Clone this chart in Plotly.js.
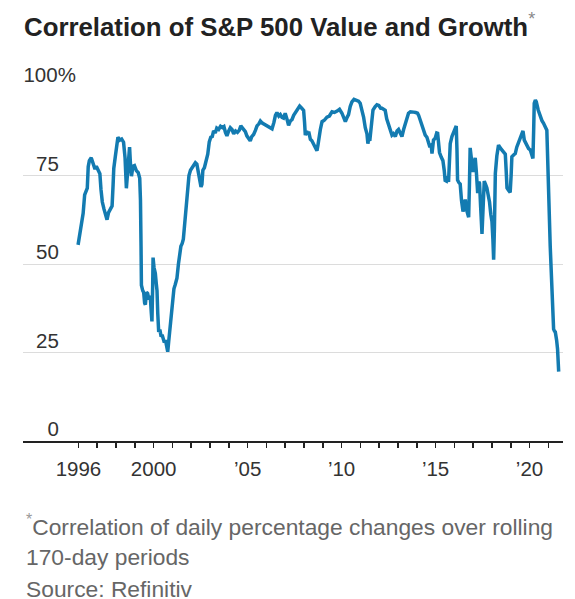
<!DOCTYPE html>
<html>
<head>
<meta charset="utf-8">
<script src="https://cdn.plot.ly/plotly-3.0.1.min.js"></script>
<style>
  html, body { margin: 0; padding: 0; background: #fff; }
  #chart { width: 575px; height: 599px; }
</style>
</head>
<body>
<div id="chart"></div>
<script>
// Rolling 170-day correlation of S&P 500 Value vs. Growth daily % changes (decimal year, %)
const years = [
  1995.98, 1996.10, 1996.25, 1996.33, 1996.40, 1996.47, 1996.52, 1996.58, 1996.68, 1996.78,
  1996.88, 1996.95, 1997.05, 1997.14, 1997.20, 1997.27, 1997.36, 1997.45, 1997.52, 1997.60,
  1997.70, 1997.79, 1997.84, 1997.88, 1997.96, 1998.04, 1998.10, 1998.20, 1998.30, 1998.40,
  1998.48, 1998.55, 1998.60, 1998.66, 1998.72, 1998.77, 1998.82, 1998.90, 1998.98, 1999.08,
  1999.18, 1999.26, 1999.30, 1999.33, 1999.35, 1999.42, 1999.47, 1999.52, 1999.56, 1999.62,
  1999.68, 1999.75, 1999.82, 1999.88, 1999.91, 1999.95, 1999.97, 2000.02, 2000.09, 2000.14,
  2000.18, 2000.22, 2000.27, 2000.33, 2000.40, 2000.45, 2000.52, 2000.57, 2000.63, 2000.70,
  2000.75, 2000.80, 2000.85, 2000.89, 2000.95, 2001.02, 2001.08, 2001.15, 2001.24, 2001.32,
  2001.38, 2001.45, 2001.52, 2001.58, 2001.63, 2001.69, 2001.75, 2001.81, 2001.88, 2001.96,
  2002.04, 2002.14, 2002.22, 2002.30, 2002.38, 2002.45, 2002.52, 2002.57, 2002.62, 2002.70,
  2002.80, 2002.88, 2002.96, 2003.04, 2003.12, 2003.19, 2003.28, 2003.36, 2003.46, 2003.56,
  2003.66, 2003.74, 2003.82, 2003.90, 2003.99, 2004.08, 2004.17, 2004.26, 2004.36, 2004.46,
  2004.56, 2004.64, 2004.70, 2004.80, 2004.88, 2004.96, 2005.06, 2005.14, 2005.22, 2005.32,
  2005.42, 2005.50, 2005.60, 2005.68, 2005.78, 2005.88, 2006.00, 2006.10, 2006.20, 2006.30,
  2006.40, 2006.48, 2006.56, 2006.66, 2006.74, 2006.83, 2006.91, 2007.00, 2007.10, 2007.18,
  2007.27, 2007.36, 2007.45, 2007.54, 2007.66, 2007.77, 2007.88, 2007.98, 2008.03, 2008.07,
  2008.14, 2008.20, 2008.25, 2008.34, 2008.42, 2008.51, 2008.60, 2008.69, 2008.74, 2008.78,
  2008.87, 2008.96, 2009.08, 2009.22, 2009.35, 2009.49, 2009.62, 2009.76, 2009.89, 2010.02,
  2010.10, 2010.20, 2010.30, 2010.37, 2010.46, 2010.55, 2010.66, 2010.78, 2010.90, 2010.99,
  2011.08, 2011.17, 2011.26, 2011.35, 2011.40, 2011.44, 2011.50, 2011.56, 2011.62, 2011.67,
  2011.78, 2011.88, 2011.98, 2012.08, 2012.15, 2012.24, 2012.32, 2012.40, 2012.50, 2012.58,
  2012.68, 2012.76, 2012.86, 2012.95, 2013.03, 2013.12, 2013.21, 2013.30, 2013.39, 2013.48,
  2013.56, 2013.66, 2013.76, 2013.83, 2013.94, 2014.04, 2014.10, 2014.20, 2014.28, 2014.36,
  2014.45, 2014.54, 2014.63, 2014.70, 2014.76, 2014.81, 2014.86, 2014.89, 2014.98, 2015.06,
  2015.11, 2015.16, 2015.21, 2015.30, 2015.39, 2015.46, 2015.51, 2015.58, 2015.64, 2015.69,
  2015.74, 2015.78, 2015.87, 2015.96, 2016.05, 2016.10, 2016.14, 2016.17, 2016.24, 2016.31,
  2016.38, 2016.46, 2016.52, 2016.58, 2016.64, 2016.70, 2016.76, 2016.80, 2016.84, 2016.90,
  2016.99, 2017.05, 2017.11, 2017.17, 2017.24, 2017.30, 2017.34, 2017.40, 2017.47, 2017.53,
  2017.59, 2017.66, 2017.73, 2017.80, 2017.87, 2017.94, 2018.00, 2018.05, 2018.09, 2018.13,
  2018.18, 2018.26, 2018.35, 2018.44, 2018.53, 2018.62, 2018.71, 2018.76, 2018.80, 2018.88,
  2018.97, 2019.02, 2019.06, 2019.15, 2019.24, 2019.32, 2019.41, 2019.50, 2019.58, 2019.65,
  2019.72, 2019.80, 2019.86, 2019.95, 2020.04, 2020.12, 2020.18, 2020.22, 2020.25, 2020.31,
  2020.36, 2020.46, 2020.57, 2020.66, 2020.74, 2020.82, 2020.92, 2021.10, 2021.22, 2021.28,
  2021.33, 2021.37, 2021.44, 2021.49, 2021.55
];
const corr = [
  55.4, 59.6, 64.3, 69.5, 70.6, 71.4, 77.5, 79.2, 80.0, 78.0,
  76.8, 77.6, 76.5, 75.5, 71.0, 67.5, 65.5, 63.8, 62.5, 64.5,
  65.3, 66.4, 72.0, 77.0, 80.3, 84.0, 85.8, 85.0, 85.3, 84.4,
  80.0, 71.4, 76.0, 79.5, 83.0, 78.0, 74.8, 77.6, 77.8, 76.4,
  75.8, 74.2, 68.0, 55.0, 44.0, 42.5, 42.0, 39.0, 38.5, 42.0,
  41.7, 40.0, 41.0, 36.0, 33.8, 44.0, 51.8, 49.0, 47.4, 44.5,
  42.5, 36.0, 30.8, 31.5, 29.5, 30.0, 28.0, 27.8, 28.5, 26.5,
  25.2, 28.0, 31.0, 33.5, 37.0, 41.5, 43.0, 44.2, 46.0, 50.0,
  53.0, 55.0, 55.8, 57.0, 60.0, 64.0, 69.0, 72.5, 75.0, 76.5,
  77.2, 77.8, 78.6, 78.2, 75.5, 73.5, 71.8, 72.5, 76.5, 77.2,
  79.5, 81.0, 84.5, 85.8, 86.0, 87.6, 87.0, 88.4, 88.0, 88.9,
  88.5, 88.8, 87.2, 86.2, 87.5, 88.5, 88.0, 86.8, 87.6, 87.2,
  87.8, 89.0, 88.6, 88.0, 87.4, 86.2, 85.2, 84.8, 86.0, 86.6,
  87.8, 89.0, 89.6, 90.4, 89.8, 89.5, 89.2, 89.0, 88.5, 88.2,
  90.0, 92.0, 92.8, 91.8, 92.2, 91.4, 91.2, 92.6, 90.8, 89.2,
  90.4, 90.8, 92.0, 92.8, 94.0, 94.6, 94.0, 93.4, 90.0, 86.4,
  87.6, 86.5, 87.4, 85.2, 84.8, 84.0, 83.0, 82.0, 83.5, 85.5,
  88.0, 90.2, 90.6, 91.5, 91.8, 93.0, 92.8, 93.2, 93.7, 92.6,
  91.5, 90.2, 91.5, 92.2, 94.5, 95.8, 96.5, 96.3, 96.0, 95.4,
  93.5, 91.5, 88.5, 86.8, 84.0, 85.5, 84.8, 88.0, 92.0, 93.5,
  94.4, 95.0, 94.8, 94.0, 94.0, 93.8, 93.4, 91.0, 89.6, 88.0,
  86.4, 86.8, 86.0, 87.6, 88.0, 87.0, 86.0, 88.0, 89.8, 91.5,
  92.6, 93.0, 92.8, 92.9, 92.8, 92.6, 92.0, 90.5, 89.6, 87.8,
  86.4, 85.8, 84.5, 83.0, 84.0, 81.2, 83.5, 85.0, 85.5, 87.0,
  86.9, 84.0, 81.5, 80.2, 79.2, 76.5, 73.6, 73.4, 74.8, 73.2,
  78.0, 84.0, 86.0, 87.4, 88.8, 89.0, 82.0, 73.7, 73.0, 72.6,
  68.0, 64.8, 66.0, 68.2, 65.5, 64.0, 63.2, 72.0, 82.8, 80.0,
  76.0, 78.0, 80.0, 76.0, 70.0, 73.2, 72.8, 66.0, 58.5, 66.0,
  73.4, 72.5, 71.5, 69.5, 67.5, 64.0, 62.0, 57.0, 51.2, 60.0,
  75.6, 80.5, 83.6, 82.8, 82.2, 81.6, 81.0, 76.0, 71.5, 70.8,
  70.2, 75.0, 80.3, 80.8, 81.2, 83.0, 84.2, 85.5, 86.8, 87.6,
  85.0, 84.0, 83.4, 82.6, 82.2, 81.0, 79.8, 88.0, 95.4, 96.3,
  95.8, 93.5, 91.6, 90.5, 89.8, 88.8, 87.8, 55.0, 34.0, 31.6,
  31.0, 30.8, 28.5, 26.0, 19.6
];

// Axis ticks and labels
const labelYears = [1996, 2000, 2005, 2010, 2015, 2020];
const labelText = ['1996', '2000', '\u201905', '\u201910', '\u201915', '\u201920'];
const majorTickYears = [2000, 2005, 2010, 2015, 2020];
const minorTickYears = [1996, 1997, 1998, 1999, 2000, 2001, 2002, 2003, 2004, 2005, 2006,
  2007, 2008, 2009, 2010, 2011, 2012, 2013, 2014, 2015, 2016, 2017, 2018, 2019, 2020, 2021];
const yTickVals = [0, 25, 50, 75, 100];
// trailing space the width of "%" keeps the numbers right-aligned with "100"
const pad = '\u2007\u00a0';
const yTickText = ['0' + pad, '25' + pad, '50' + pad, '75' + pad, '100%'];

const xRange = [1993.05, 2021.78];
const sans = 'Liberation Sans, Arial, sans-serif';

const trace = {
  type: 'scatter',
  mode: 'lines',
  x: years,
  y: corr,
  line: { color: '#137bb1', width: 3.5, shape: 'linear' },
  hoverinfo: 'skip'
};

const layout = {
  width: 575,
  height: 599,
  margin: { l: 23, r: 12, t: 87, b: 158, pad: 0 },
  paper_bgcolor: '#ffffff',
  plot_bgcolor: '#ffffff',
  showlegend: false,
  title: {
    text: 'Correlation of S&amp;P 500 Value and Growth<sup><span style="color:#888;font-weight:normal">*</span></sup>',
    xref: 'container', x: 24 / 575, xanchor: 'left',
    yref: 'container', y: 1 - 27 / 599, yanchor: 'middle',
    font: { family: sans, size: 25.8, weight: 700, color: '#222222' }
  },
  xaxis: {
    range: xRange,
    showgrid: false,
    zeroline: false,
    showline: true,
    linecolor: '#222222',
    linewidth: 1.5,
    tickmode: 'array',
    tickvals: labelYears,
    ticktext: labelText,
    ticks: '',
    ticklabelstandoff: 9,
    tickfont: { family: sans, size: 20.5, color: '#333333' },
    minor: {
      tickmode: 'array',
      tickvals: minorTickYears,
      ticks: 'outside',
      ticklen: 5,
      tickwidth: 1.5,
      tickcolor: '#222222',
      showgrid: false
    },
    fixedrange: true
  },
  xaxis2: {
    overlaying: 'x',
    anchor: 'y',
    side: 'bottom',
    range: xRange,
    showgrid: false,
    zeroline: false,
    showline: false,
    tickmode: 'array',
    tickvals: majorTickYears,
    ticks: 'outside',
    ticklen: 10,
    tickwidth: 1.5,
    tickcolor: '#222222',
    showticklabels: false,
    fixedrange: true
  },
  yaxis: {
    range: [0, 100],
    anchor: 'free',
    position: 0.098,
    side: 'left',
    showline: false,
    zeroline: false,
    showgrid: true,
    gridcolor: '#dcdcdc',
    gridwidth: 1,
    tickmode: 'array',
    tickvals: yTickVals,
    ticktext: yTickText,
    ticks: '',
    ticklabelshift: -12,
    tickfont: { family: sans, size: 20.5, color: '#333333' },
    fixedrange: true
  },
  annotations: [
    {
      text: '<sup><span style="color:#999">*</span></sup>Correlation of daily percentage changes over rolling',
      xref: 'paper', yref: 'paper', x: 0.002, y: -0.2395,
      xanchor: 'left', yanchor: 'middle', showarrow: false,
      font: { family: sans, size: 22.8, color: '#666666' }
    },
    {
      text: '170-day periods',
      xref: 'paper', yref: 'paper', x: 0.002, y: -0.3277,
      xanchor: 'left', yanchor: 'middle', showarrow: false,
      font: { family: sans, size: 22.8, color: '#666666' }
    },
    {
      text: 'Source: Refinitiv',
      xref: 'paper', yref: 'paper', x: 0.002, y: -0.4172,
      xanchor: 'left', yanchor: 'middle', showarrow: false,
      font: { family: sans, size: 22.8, color: '#666666' }
    }
  ]
};

Plotly.newPlot('chart', [trace], layout, { staticPlot: true, displayModeBar: false });
</script>
</body>
</html>
